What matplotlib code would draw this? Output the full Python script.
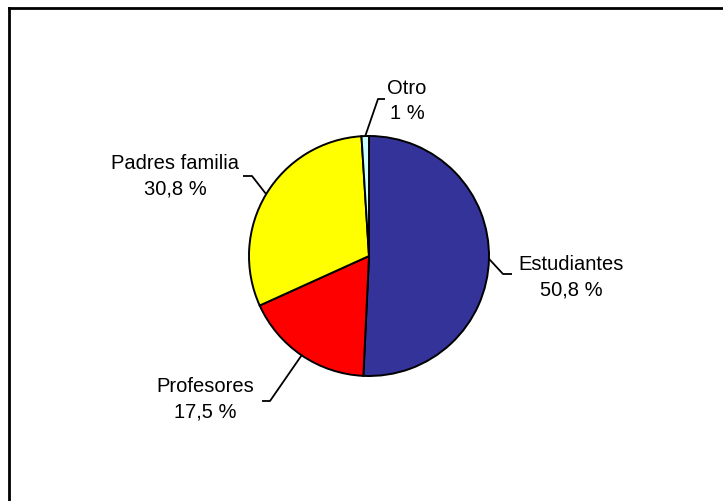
import numpy as np
import matplotlib
matplotlib.use("Agg")
import matplotlib.pyplot as plt
from matplotlib.lines import Line2D

plt.rcParams["font.family"] = ["Liberation Sans", "DejaVu Sans"]

# data, clockwise from 12 o'clock
CATEGORIES = ["Estudiantes", "Profesores", "Padres familia", "Otro"]
PERCENTS = [50.8, 17.5, 30.8, 1.0]
PCT_LABELS = ["50,8 %", "17,5 %", "30,8 %", "1 %"]
COLORS = ["#333399", "#ff0000", "#ffff00", "#ccffff"]

W, H = 723, 502
CX, CY, R = 369, 257, 120  # pie centre / radius in pixels (from top)

# label layout in pixels: text centre, elbow, end of horizontal tick
TEXT_POS = [(571, 277), (205, 399), (175, 176), (407, 101)]
ELBOW = [(503, 275), (270, 402), (252, 177), (378, 100)]
TICK_END = [(512, 275), (262, 402), (243, 177), (385, 100)]


def px(p):
    return ((p[0] - CX) / R, (CY - p[1]) / R)


fig = plt.figure(figsize=(W / 100, H / 100), dpi=100)
ax = fig.add_axes([0, 0, 1, 1])

wedges, _ = ax.pie(PERCENTS, colors=COLORS, startangle=90, counterclock=False,
                   radius=1.0, center=(0, 0), frame=True,
                   wedgeprops=dict(edgecolor="black", linewidth=1.4))
ax.set_xlim(-CX / R, (W - CX) / R)
ax.set_ylim(-(H - CY) / R, CY / R)
ax.set_aspect("auto")
ax.axis("off")

for i, w in enumerate(wedges):
    mid = np.deg2rad((w.theta1 + w.theta2) / 2)
    anchor = (np.cos(mid), np.sin(mid))
    e = px(ELBOW[i])
    t = px(TICK_END[i])
    ax.plot([anchor[0], e[0], t[0]], [anchor[1], e[1], t[1]],
            color="black", linewidth=1.3, solid_capstyle="butt")
    tx, ty = px(TEXT_POS[i])
    ax.text(tx, ty, f"{CATEGORIES[i]}\n{PCT_LABELS[i]}", ha="center", va="center",
            fontsize=14.5, linespacing=1.45, color="black")

# chart border (only top and left edges are visible in the crop)
fig.add_artist(Line2D([9 / W, 1], [1 - 9 / H, 1 - 9 / H], color="black", linewidth=2.0))
fig.add_artist(Line2D([9 / W, 9 / W], [0, 1 - 9 / H], color="black", linewidth=2.0))

fig.savefig("out.png", dpi=100)
